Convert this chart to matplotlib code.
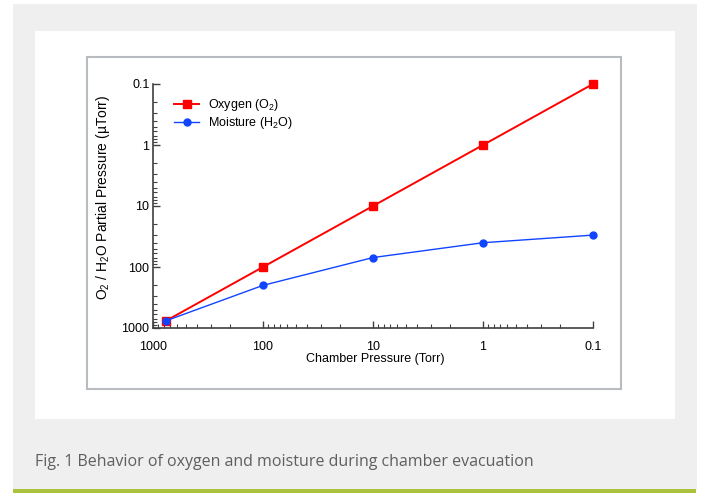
import matplotlib
matplotlib.use("Agg")
import matplotlib.pyplot as plt
from matplotlib.patches import Rectangle
from matplotlib.ticker import FixedLocator, FixedFormatter, LogLocator, NullFormatter

plt.rcParams['font.family'] = ['Liberation Sans', 'DejaVu Sans']
plt.rcParams['mathtext.fontset'] = 'custom'
plt.rcParams['mathtext.rm'] = 'Liberation Sans'

# ---- data ----
chamber_pressure = [760, 100, 10, 1, 0.1]          # Torr
oxygen = [760, 100, 10, 1, 0.1]                     # uTorr
moisture = [760, 200, 70, 40, 30]                   # uTorr
major_ticks = [1000, 100, 10, 1, 0.1]
tick_labels = ["1000", "100", "10", "1", "0.1"]
caption = "Fig. 1 Behavior of oxygen and moisture during chamber evacuation"

W, H = 701, 493
fig = plt.figure(figsize=(W / 100, H / 100), dpi=100)
fig.patch.set_facecolor('white')

def rect(x0, y0, x1, y1, **kw):
    # pixel coords with y measured from top
    r = Rectangle((x0 / W, 1 - y1 / H), (x1 - x0) / W, (y1 - y0) / H,
                  transform=fig.transFigure, **kw)
    fig.add_artist(r)
    return r

rect(13, 4, 697, 490, facecolor='#efefef', edgecolor='none', zorder=0)
rect(35, 31, 675, 419, facecolor='white', edgecolor='none', zorder=0)
rect(87, 57, 621, 389, facecolor='white', edgecolor='#b8bcc0', linewidth=1.5, zorder=0)
rect(13, 489, 696, 493, facecolor='#aac23c', edgecolor='none', zorder=0)

fig.text(35 / W, 1 - 466 / H, caption, family=['Open Sans', 'DejaVu Sans'],
         fontsize=11.5, color='#5f5f5f', ha='left', va='baseline')

# axes: x 1000 -> 153px, 0.1 -> 593px ; y 0.1 -> 84px, 1000 -> 328px
ax = fig.add_axes([153 / W, 1 - 328 / H, (593 - 153) / W, (328 - 84) / H])
ax.set_facecolor('none')
ax.set_xscale('log')
ax.set_yscale('log')
ax.set_xlim(1000, 0.1)
ax.set_ylim(1000, 0.1)

ax.plot(chamber_pressure, oxygen, color='#ff0000', lw=1.4, marker='s',
        markersize=5.3, label=r'Oxygen (O$_\mathregular{2}$)', clip_on=False, zorder=3)
ax.plot(chamber_pressure, moisture, color='#1144ff', lw=1.0, marker='o',
        markersize=5, label=r'Moisture (H$_\mathregular{2}$O)', clip_on=False, zorder=4)

for axis in (ax.xaxis, ax.yaxis):
    axis.set_major_locator(FixedLocator(major_ticks))
    axis.set_major_formatter(FixedFormatter(tick_labels))
    axis.set_minor_locator(LogLocator(base=10, subs=[2, 3, 4, 5, 6, 7, 8, 9]))
    axis.set_minor_formatter(NullFormatter())

ax.tick_params(which='major', direction='in', length=5, width=1, color='#404040',
               labelsize=9, labelcolor='black')
ax.tick_params(which='minor', direction='in', length=3, width=0.8, color='#404040')
ax.tick_params(axis='x', which='major', pad=9)
ax.tick_params(axis='y', which='major', pad=2.5)

for s in ('top', 'right'):
    ax.spines[s].set_visible(False)
for s in ('left', 'bottom'):
    ax.spines[s].set_color('#404040')
    ax.spines[s].set_linewidth(1.2)

fig.text(375 / W, 1 - 359 / H, 'Chamber Pressure (Torr)', fontsize=9,
         ha='center', va='center')
fig.text(103 / W, 1 - 197 / H,
         r'O$_\mathregular{2}$ / H$_\mathregular{2}$O Partial Pressure (µTorr)',
         fontsize=10, rotation=90, ha='center', va='center')

ax.legend(loc='upper left', bbox_to_anchor=(174 / W, 1 - 97 / H),
          bbox_transform=fig.transFigure, frameon=False, fontsize=9,
          handlelength=2.0, handletextpad=0.7, labelspacing=0.15,
          borderpad=0, borderaxespad=0)

fig.savefig('out.png', dpi=100)
